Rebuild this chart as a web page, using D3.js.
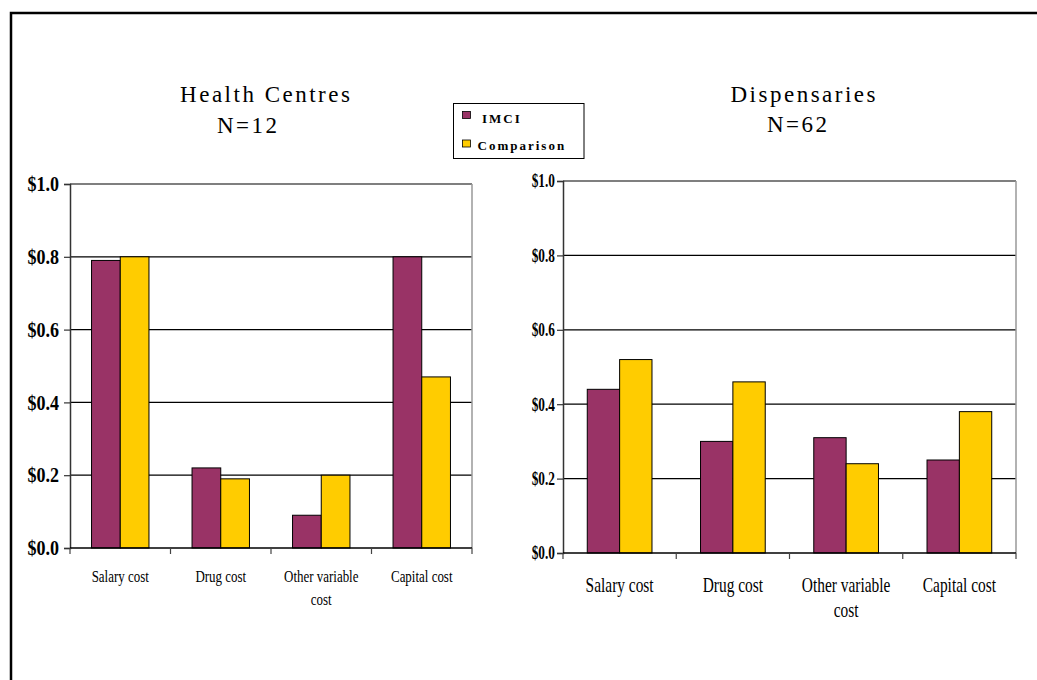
<!DOCTYPE html>
<html>
<head>
<meta charset="utf-8">
<script src="https://cdn.jsdelivr.net/npm/d3@7"></script>
<style>
  html, body { margin: 0; padding: 0; background: #fff; }
  svg { display: block; }
  text { font-family: "Liberation Serif", "Times New Roman", serif; fill: #000; }
</style>
</head>
<body>
<svg id="chart" width="1037" height="680"></svg>
<script>
// Unit cost per item, two facility types, IMCI vs comparison districts
const categories = ["Salary cost", "Drug cost", "Other variable cost", "Capital cost"];
const series = ["IMCI", "Comparison"];
const seriesColors = ["#993366", "#FFCC00"];
const yTicks = [0, 0.2, 0.4, 0.6, 0.8, 1.0];

const healthCentresIMCI       = [0.79, 0.22, 0.09, 0.80];
const healthCentresComparison = [0.80, 0.19, 0.20, 0.47];
const dispensariesIMCI        = [0.44, 0.30, 0.31, 0.25];
const dispensariesComparison  = [0.52, 0.46, 0.24, 0.38];

const panelTitles = [["Health Centres", "N=12"], ["Dispensaries", "N=62"]];

const svg = d3.select("#chart");

// outer frame (top and left edges visible)
svg.append("path")
  .attr("d", "M11,680 V13 H1037")
  .attr("fill", "none").attr("stroke", "#000").attr("stroke-width", 2.5);

// squeeze a text element horizontally to a fraction of its natural width
function condense(sel, k) {
  sel.each(function () {
    const w = this.getComputedTextLength();
    d3.select(this).attr("textLength", w * k).attr("lengthAdjust", "spacingAndGlyphs");
  });
}

function wrapLabel(name) {
  const words = name.split(" ");
  return words.length > 2 ? [words.slice(0, -1).join(" "), words[words.length - 1]] : [name];
}

function drawPanel(cfg) {
  const { left, right, top, bottom, a, b, tickFont, tickK, tickGap, catFont, catK, catDy, catLine } = cfg;
  const g = svg.append("g");

  const y = d3.scaleLinear().domain([0, 1]).range([bottom, top]);
  const x0 = d3.scaleBand().domain(categories).range([left, right]).padding(0);
  const bw = x0.bandwidth();
  const barW = bw / 3.5;             // gap width 150%
  const x1 = d3.scaleBand().domain(series).range([barW * 0.75, barW * 0.75 + barW * 2]).padding(0);

  // horizontal gridlines
  g.append("g").selectAll("line").data(yTicks.filter(d => d > 0)).join("line")
    .attr("x1", left).attr("x2", right)
    .attr("y1", d => y(d)).attr("y2", d => y(d))
    .attr("stroke", "#000").attr("stroke-width", 1.2);

  // plot-area right border
  g.append("line").attr("x1", right).attr("x2", right).attr("y1", top).attr("y2", bottom)
    .attr("stroke", "#999").attr("stroke-width", 1.5);

  // bars
  const rows = categories.map((c, i) => ({ c, vals: [a[i], b[i]] }));
  g.append("g").selectAll("g").data(rows).join("g")
    .attr("transform", d => `translate(${x0(d.c)},0)`)
    .selectAll("rect").data(d => d.vals.map((v, j) => ({ s: series[j], v, j }))).join("rect")
      .attr("x", d => x1(d.s)).attr("width", x1.bandwidth())
      .attr("y", d => y(d.v)).attr("height", d => y(0) - y(d.v))
      .attr("fill", d => seriesColors[d.j])
      .attr("stroke", "#000").attr("stroke-width", 1);

  // y axis
  const yAxis = d3.axisLeft(y).tickValues(yTicks).tickSize(6).tickPadding(tickGap)
    .tickFormat(d => "$" + d.toFixed(1));
  const ya = g.append("g").attr("transform", `translate(${left},0)`).call(yAxis);
  ya.select(".domain").attr("stroke", "#333").attr("stroke-width", 1.5);
  ya.selectAll(".tick line").attr("stroke", "#333").attr("stroke-width", 1.2);
  ya.selectAll(".tick text")
    .attr("font-family", "Liberation Serif").attr("font-weight", "bold")
    .attr("font-size", tickFont).attr("dy", "0.33em").call(condense, tickK);

  // x axis: baseline with ticks at category boundaries
  g.append("line").attr("x1", left).attr("x2", right).attr("y1", bottom).attr("y2", bottom)
    .attr("stroke", "#000").attr("stroke-width", 1.5);
  const bounds = categories.map(c => x0(c)).concat([right]);
  g.append("g").selectAll("line").data(bounds).join("line")
    .attr("x1", d => d).attr("x2", d => d).attr("y1", bottom).attr("y2", bottom + 6)
    .attr("stroke", "#444").attr("stroke-width", 1.2);

  // category labels
  const lab = g.append("g").selectAll("text").data(categories).join("text")
    .attr("text-anchor", "middle").attr("font-size", catFont)
    .attr("x", d => x0(d) + bw / 2).attr("y", bottom + catDy);
  lab.selectAll("tspan").data(d => wrapLabel(d)).join("tspan")
    .attr("x", function () { return d3.select(this.parentNode).attr("x"); })
    .attr("dy", (d, i) => i === 0 ? 0 : catLine)
    .text(d => d)
    .each(function () {
      const w = this.getComputedTextLength();
      d3.select(this).attr("textLength", w * catK).attr("lengthAdjust", "spacingAndGlyphs");
    });
}

drawPanel({ left: 70, right: 472, top: 184, bottom: 548,
  a: healthCentresIMCI, b: healthCentresComparison,
  tickFont: 20, tickK: 0.9, tickGap: 5, catFont: 17.5, catK: 0.74, catDy: 33.5, catLine: 23 });

drawPanel({ left: 563, right: 1016, top: 181, bottom: 553,
  a: dispensariesIMCI, b: dispensariesComparison,
  tickFont: 18, tickK: 0.74, tickGap: 2, catFont: 22, catK: 0.70, catDy: 38.5, catLine: 25 });

// panel titles
const titlePos = [[[265, 102], [247, 132.7]], [[803, 102.3], [797, 132.3]]];
panelTitles.forEach((lines, p) => {
  lines.forEach((t, i) => {
    svg.append("text")
      .attr("x", titlePos[p][i][0] + 1.25).attr("y", titlePos[p][i][1])
      .attr("text-anchor", "middle").attr("font-size", 23)
      .attr("letter-spacing", "2.5px").text(t);
  });
});

// legend
const lg = svg.append("g");
lg.append("rect").attr("x", 453.5).attr("y", 103.5).attr("width", 130.5).attr("height", 55)
  .attr("fill", "#fff").attr("stroke", "#000").attr("stroke-width", 1);
const items = lg.selectAll("g.item").data(series).join("g").attr("class", "item")
  .attr("transform", (d, i) => `translate(0,${i === 0 ? 0 : 28.5})`);
items.append("rect").attr("x", 462.5).attr("y", 111.5).attr("width", 8).attr("height", 7)
  .attr("fill", (d, i) => seriesColors[i]).attr("stroke", "#000").attr("stroke-width", 0.8);
items.append("text")
  .attr("x", (d, i) => i === 0 ? 482 : 477.5).attr("y", (d, i) => i === 0 ? 123.3 : 121.5)
  .attr("font-size", 13).attr("font-weight", "bold").attr("letter-spacing", "2px")
  .text(d => d);
</script>
</body>
</html>
